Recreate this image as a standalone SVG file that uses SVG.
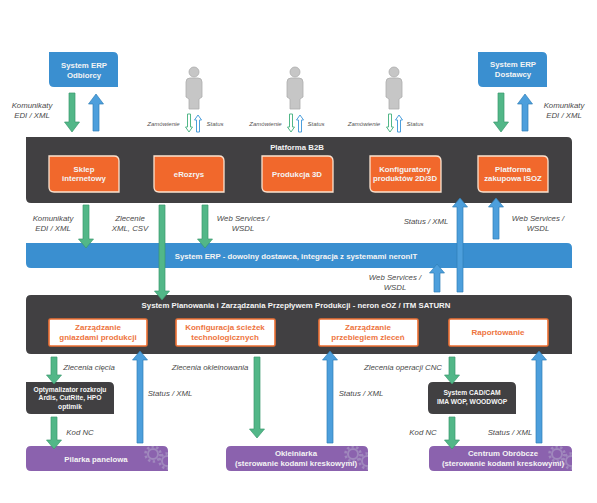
<svg xmlns="http://www.w3.org/2000/svg" width="597" height="503" viewBox="0 0 597 503">
<style>
text{font-family:"Liberation Sans",Arial,sans-serif;text-anchor:middle}
.t{font-weight:bold;fill:#f4f4f4;font-size:7.8px}
.s{font-weight:bold;fill:#f6f6f6;font-size:6.7px}
.o{font-weight:bold;fill:#ee7440;font-size:8px}
.l{font-style:italic;fill:#4a4a4a;font-size:7.8px}
.m{font-style:italic;fill:#555;font-size:6px}
.dark{fill:#414042}
.blue{fill:#3a8fd0}
.pur{fill:#8b62ae}
.org{fill:#f1682c;stroke:#fbe3d0;stroke-width:1.3}
.wh{fill:#fff;stroke:#ee7033;stroke-width:1.6}
.g{fill:#52b788;stroke:#3b9a6e;stroke-width:.7}
.b{fill:#4d9fdc;stroke:#2f7fb8;stroke-width:.7}
.gh{fill:#fff;stroke:#52b788;stroke-width:1}
.bh{fill:#fff;stroke:#4d9fdc;stroke-width:1}
.p{fill:#c6c6c6;stroke:#adadad;stroke-width:.8}
.gear{fill:none;stroke:#a088bd;stroke-width:2}
.teeth{fill:none;stroke:#a088bd;stroke-width:2.6;stroke-dasharray:2.4 2.4}
</style>
<defs>
<path id="pb" d="M-5 0a5 5 0 1 1 10 0a5 5 0 1 1 -10 0M-8 10Q-8 6 -4 6H4Q8 6 8 10V25L5 27V37H-5V27L-8 25Z"/>
<g id="gr"><circle r="5" class="gear"/><circle r="7.500" class="teeth"/></g>
<clipPath id="c1"><rect x="130" y="446" width="38" height="25"/></clipPath>
<clipPath id="c2"><rect x="330" y="446" width="38" height="25"/></clipPath>
<clipPath id="c3"><rect x="534" y="446" width="38" height="25"/></clipPath>
</defs>

<g id="erp-odbiorcy"><path class="blue" d="M49 52H113Q118 52 118 57V87H54Q49 87 49 82Z"/><text class="t" x="84" y="68">System ERP</text><text class="t" x="84" y="78">Odbiorcy</text></g>
<g id="erp-dostawcy"><path class="blue" d="M478 52H542Q547 52 547 57V87H483Q478 87 478 82Z"/><text class="t" x="513" y="67">System ERP</text><text class="t" x="513" y="77">Dostawcy</text></g>
<g id="person-1"><use href="#pb" class="p" x="194" y="72"/></g>
<g id="person-2"><use href="#pb" class="p" x="295" y="72"/></g>
<g id="person-3"><use href="#pb" class="p" x="394" y="72"/></g>

<g id="platforma-b2b"><path class="dark" d="M26 137H567Q572 137 572 142V203H31Q26 203 26 198Z"/><text class="t" x="297" y="150">Platforma B2B</text></g>
<g id="sklep"><path class="org" d="M49 156H114Q119 156 119 161V192H54Q49 192 49 187Z"/><text class="t" x="84" y="172">Sklep</text><text class="t" x="84" y="181">internetowy</text></g>
<g id="erozrys"><path class="org" d="M154 156H219Q224 156 224 161V192H159Q154 192 154 187Z"/><text class="t" x="189" y="177">eRozrys</text></g>
<g id="produkcja"><path class="org" d="M262 156H328Q333 156 333 161V192H267Q262 192 262 187Z"/><text class="t" x="297" y="177">Produkcja 3D</text></g>
<g id="konfiguratory"><path class="org" d="M370 156H436Q441 156 441 161V192H375Q370 192 370 187Z"/><text class="t" x="405" y="172">Konfiguratory</text><text class="t" x="405" y="181">produktów 2D/3D</text></g>
<g id="isoz"><path class="org" d="M478 156H543Q548 156 548 161V192H483Q478 192 478 187Z"/><text class="t" x="513" y="172">Platforma</text><text class="t" x="513" y="181">zakupowa ISOZ</text></g>

<g id="erp-band"><path class="blue" d="M26 243H567Q572 243 572 248V268H31Q26 268 26 263Z"/><text class="t" x="296" y="259">System ERP - dowolny dostawca, integracja z systemami neronIT</text></g>

<g id="planowanie"><path class="dark" d="M31 295H567Q572 295 572 300V354H31Q26 354 26 349V300Q26 295 31 295Z"/><text class="t" x="296" y="308">System Planowania i Zarządzania Przepływem Produkcji - neron eOZ / ITM SATURN</text></g>
<g id="gniazda"><rect class="wh" x="49" y="319" width="98" height="27" rx="1.500"/><text class="o" x="98" y="330">Zarządzanie</text><text class="o" x="98" y="340">gniazdami produkcji</text></g>
<g id="sciezki"><rect class="wh" x="176" y="319" width="99" height="27" rx="1.500"/><text class="o" x="225" y="330">Konfiguracja ścieżek</text><text class="o" x="225" y="340">technologicznych</text></g>
<g id="zlecenia"><rect class="wh" x="319" y="319" width="99" height="27" rx="1.500"/><text class="o" x="368" y="330">Zarządzanie</text><text class="o" x="368" y="340">przebiegiem zleceń</text></g>
<g id="raportowanie"><rect class="wh" x="449" y="319" width="99" height="27" rx="1.500"/><text class="o" x="498" y="335">Raportowanie</text></g>

<g id="optymalizator"><path class="dark" d="M26 382H109Q114 382 114 387V414H31Q26 414 26 409Z"/><text class="s" x="70" y="392">Optymalizator rozkroju</text><text class="s" x="70" y="400">Ardis, CutRite, HPO</text><text class="s" x="70" y="409">optimik</text></g>
<g id="cadcam"><path class="dark" d="M433 382H511Q516 382 516 387V414H433Q428 414 428 409V387Q428 382 433 382Z"/><text class="s" x="472" y="395">System CAD/CAM</text><text class="s" x="472" y="404">IMA WOP, WOODWOP</text></g>

<g id="pilarka"><path class="pur" d="M31 446H163Q168 446 168 451V471H31Q26 471 26 466V451Q26 446 31 446Z"/><g clip-path="url(#c1)"><use href="#gr" x="153" y="454"/><use href="#gr" x="167" y="461"/></g><text class="t" x="96" y="462">Pilarka panelowa</text></g>
<g id="okleiniarka"><path class="pur" d="M231 446H363Q368 446 368 451V471H231Q226 471 226 466V451Q226 446 231 446Z"/><g clip-path="url(#c2)"><use href="#gr" x="353" y="454"/><use href="#gr" x="367" y="461"/></g><text class="t" x="296" y="456">Okleiniarka</text><text class="t" x="296" y="466">(sterowanie kodami kreskowymi)</text></g>
<g id="centrum"><path class="pur" d="M434 446H567Q572 446 572 451V471H434Q429 471 429 466V451Q429 446 434 446Z"/><g clip-path="url(#c3)"><use href="#gr" x="557" y="454"/><use href="#gr" x="571" y="461"/></g><text class="t" x="503" y="456">Centrum Obróbcze</text><text class="t" x="503" y="466">(sterowanie kodami kreskowymi)</text></g>

<g id="connectors">
<path class="g" d="M69 93H75V122H79.500L72 132L64.500 122H69Z"/>
<path class="b" d="M93 131H99V104H103.500L96 94L88.500 104H93Z"/>
<path class="g" d="M498 93H504V122H508.500L501 132L493.500 122H498Z"/>
<path class="b" d="M522 131H528V104H532.500L525 94L517.500 104H522Z"/>
<path class="gh" d="M187.500 114H190.500V127H192.500L189 132L185.500 127H187.500Z"/>
<path class="bh" d="M196.500 132H199.500V120H201.500L198 115L194.500 120H196.500Z"/>
<path class="gh" d="M289.500 114H292.500V127H294.500L291 132L287.500 127H289.500Z"/>
<path class="bh" d="M298.500 132H301.500V120H303.500L300 115L296.500 120H298.500Z"/>
<path class="gh" d="M388.500 114H391.500V127H393.500L390 132L386.500 127H388.500Z"/>
<path class="bh" d="M397.500 132H400.500V120H402.500L399 115L395.500 120H397.500Z"/>
<path class="g" d="M83 205H89V239H93.500L86 248L78.500 239H83Z"/>
<path class="g" d="M159 205H165V291H169.500L162 300L154.500 291H159Z"/>
<path class="g" d="M202 205H208V239H212.500L205 248L197.500 239H202Z"/>
<path class="b" d="M457 292H463V207H467.500L460 198L452.500 207H457Z"/>
<path class="b" d="M493 239H499V207H503.500L496 198L488.500 207H493Z"/>
<path class="b" d="M434 292H440V273H444.500L437 264L429.500 273H434Z"/>
<path class="g" d="M51 357H57V375H61.500L54 384L46.500 375H51Z"/>
<path class="g" d="M51 417H57V440H61.500L54 449L46.500 440H51Z"/>
<path class="b" d="M137 443H143V360H147.500L140 351L132.500 360H137Z"/>
<path class="g" d="M254 357H260V429H264.500L257 438L249.500 429H254Z"/>
<path class="b" d="M327 443H333V360H337.500L330 351L322.500 360H327Z"/>
<path class="g" d="M449 357H455V375H459.500L452 384L444.500 375H449Z"/>
<path class="g" d="M449 417H455V440H459.500L452 449L444.500 440H449Z"/>
<path class="b" d="M536 443H542V360H546.500L539 351L531.500 360H536Z"/>
</g>

<g id="labels">
<text class="l" x="32" y="108">Komunikaty</text><text class="l" x="32" y="118">EDI / XML</text>
<text class="l" x="564" y="108">Komunikaty</text><text class="l" x="564" y="118">EDI / XML</text>
<text class="m" x="163.500" y="126">Zamówienie</text><text class="m" x="215" y="126">Status</text>
<text class="m" x="265.500" y="126">Zamówienie</text><text class="m" x="316" y="126">Status</text>
<text class="m" x="364" y="126">Zamówienie</text><text class="m" x="415" y="126">Status</text>
<text class="l" x="53" y="221">Komunikaty</text><text class="l" x="53" y="231">EDI / XML</text>
<text class="l" x="130" y="221">Zlecenie</text><text class="l" x="130" y="231">XML, CSV</text>
<text class="l" x="243" y="221">Web Services /</text><text class="l" x="243" y="231">WSDL</text>
<text class="l" x="426" y="224">Status / XML</text>
<text class="l" x="538" y="221">Web Services /</text><text class="l" x="538" y="231">WSDL</text>
<text class="l" x="395" y="280">Web Services /</text><text class="l" x="395" y="290">WSDL</text>
<text class="l" x="89" y="370">Zlecenia cięcia</text>
<text class="l" x="210" y="370">Zlecenia okleinowania</text>
<text class="l" x="403" y="370">Zlecenia operacji CNC</text>
<text class="l" x="170" y="396">Status / XML</text>
<text class="l" x="361" y="396">Status / XML</text>
<text class="l" x="80" y="435">Kod NC</text>
<text class="l" x="423" y="435">Kod NC</text>
<text class="l" x="510" y="435">Status / XML</text>
</g>
</svg>
